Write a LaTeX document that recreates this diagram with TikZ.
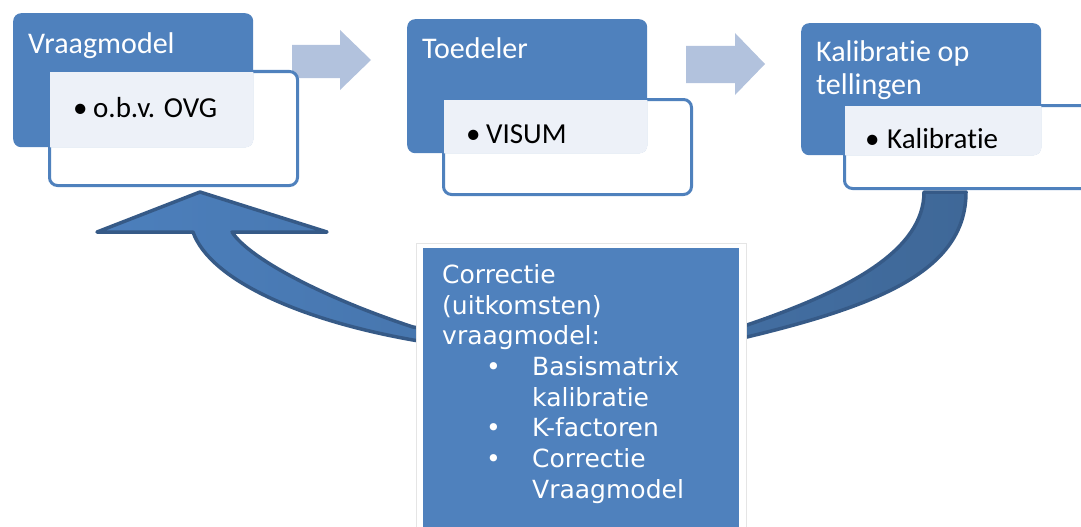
\documentclass[tikz,border=0pt]{standalone}
\usepackage{fontspec}
\setmainfont{Carlito}[Ligatures=NoCommon]
\newfontfamily\verd{DejaVu Sans}
\definecolor{ppblue}{HTML}{4F81BD}
\definecolor{ovl}{HTML}{EDF1F8}
\definecolor{lightarr}{HTML}{B2C2DD}
\definecolor{arredge}{HTML}{365A87}
\definecolor{arrleft}{HTML}{4C7FBC}
\definecolor{arrright}{HTML}{3F6898}
\begin{document}
\begin{tikzpicture}[x=1pt,y=-1pt,
  bluebox/.style={fill=ppblue, draw=none, rounded corners=8pt, inner sep=0pt, anchor=north west},
  whitebox/.style={fill=white, draw=ppblue, line width=3pt, rounded corners=8pt, inner sep=0pt, anchor=north west},
  head/.style={text=white, font=\fontsize{30pt}{32pt}\selectfont, inner sep=0pt, anchor=base west},
  item/.style={text=black, font=\fontsize{29pt}{31pt}\selectfont, inner sep=0pt, anchor=base west},
  ctext/.style={text=white, font=\verd\fontsize{25pt}{30pt}\selectfont, inner sep=0pt, anchor=base west},
  lightarrow/.style={fill=lightarr, draw=none},
  bigarrow/.style={draw=arredge, line width=3.5pt, line join=round, left color=arrleft, right color=arrright}
]
\useasboundingbox (0,0) rectangle (1081,527);

% light block arrows
\fill[lightarrow] (292,45) -- (340,45) -- (340,30) -- (371,60) -- (340,90) -- (340,78) -- (292,78) -- cycle;
\fill[lightarrow] (686,46) -- (735,46) -- (735,33) -- (765,64) -- (735,95) -- (735,83) -- (686,83) -- cycle;

% curved return arrow
\path[bigarrow] (924,192) -- (966,192)
  .. controls (966,270) and (880,305) .. (747,337)
  .. controls (650,360) and (500,355) .. (413,340)
  .. controls (300,320) and (210,280) .. (193,232)
  -- (97,232) -- (200,192) -- (327,232) -- (232,232)
  .. controls (250,260) and (330,300) .. (413,327)
  .. controls (500,342) and (650,345) .. (747,325)
  .. controls (850,290) and (924,250) .. (924,192) -- cycle;

% box 1
\node[whitebox, minimum width=248pt, minimum height=114pt] (w1) at (48,70) {};
\node[bluebox, minimum width=240pt, minimum height=134pt] (b1) at (13,13) {};
\begin{scope}
  \clip[rounded corners=8pt] (b1.north west) rectangle (b1.south east);
  \fill[ovl] ([shift={(2pt,-2pt)}]w1.north west) rectangle ([shift={(-2pt,2pt)}]w1.south east);
\end{scope}
\node[head] (t1) at (28,53) {Vraagmodel};
\node[item] (i1) at (73,117) {\makebox[20pt][l]{•}o.b.v. OVG};

% box 2
\node[whitebox, minimum width=248pt, minimum height=95pt] (w2) at (442,98) {};
\node[bluebox, minimum width=240pt, minimum height=134pt] (b2) at (407,19) {};
\begin{scope}
  \clip[rounded corners=8pt] (b2.north west) rectangle (b2.south east);
  \fill[ovl] ([shift={(2pt,-2pt)}]w2.north west) rectangle ([shift={(-2pt,2pt)}]w2.south east);
\end{scope}
\node[head] (t2) at (422,59) {Toedeler};
\node[item] (i2) at (466,143) {\makebox[20pt][l]{•}VISUM};

% box 3
\node[whitebox, minimum width=260pt, minimum height=83pt] (w3) at (843,104) {};
\node[bluebox, minimum width=240pt, minimum height=132pt] (b3) at (801,23) {};
\begin{scope}
  \clip[rounded corners=8pt] (b3.north west) rectangle (b3.south east);
  \fill[ovl] ([shift={(2pt,-2pt)}]w3.north west) rectangle ([shift={(-2pt,2pt)}]w3.south east);
\end{scope}
\node[head] (t3a) at (816,62) {Kalibratie op};
\node[head] (t3b) at (816,94) {tellingen};
\node[item] (i3) at (865,148) {\makebox[22pt][l]{•}Kalibratie};

% central correction box
\node[fill=white, draw=black!10, line width=1.2pt, inner sep=0pt, anchor=north west,
      minimum width=330pt, minimum height=300pt] (cf) at (416,243) {};
\node[fill=ppblue, draw=none, inner sep=0pt, anchor=north west,
      minimum width=316pt, minimum height=300pt] (cb) at (423,248) {};
\node[ctext] (c1) at (442,283) {Correctie};
\node[ctext] (c2) at (442,314) {(uitkomsten)};
\node[ctext] (c3) at (442,344) {vraagmodel:};
\node[ctext] (c4) at (486,375) {\makebox[46pt][l]{•}Basismatrix};
\node[ctext] (c5) at (532,406) {kalibratie};
\node[ctext] (c6) at (486,436) {\makebox[46pt][l]{•}K-factoren};
\node[ctext] (c7) at (486,467) {\makebox[46pt][l]{•}Correctie};
\node[ctext] (c8) at (532,498) {Vraagmodel};
\end{tikzpicture}
\end{document}
